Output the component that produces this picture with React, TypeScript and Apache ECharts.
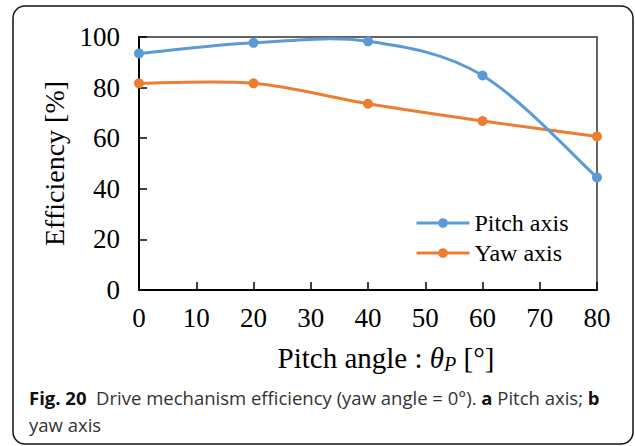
import React, { useEffect, useRef } from "react";
import * as echarts from "echarts";

const pitchAngles = [0, 20, 40, 60, 80];
const pitchAxisEff = [93.5, 97.7, 98.3, 84.8, 44.5];
const yawAxisEff = [81.7, 81.7, 73.6, 66.8, 60.7];
const seriesNames = ["Pitch axis", "Yaw axis"];
const seriesColors = ["#5B9BD5", "#ED7D31"];

const SERIF = "'Liberation Serif', 'Times New Roman', serif";
const SANS = "'Open Sans', 'Noto Sans', sans-serif";

// Excel-like smoothed curve (Catmull-Rom to cubic Bezier), through the chart's own scale
function smoothPath(pts: number[][]): string {
  let d = `M${pts[0][0]},${pts[0][1]}`;
  for (let i = 0; i < pts.length - 1; i++) {
    const p0 = pts[Math.max(0, i - 1)];
    const p1 = pts[i];
    const p2 = pts[i + 1];
    const p3 = pts[Math.min(pts.length - 1, i + 2)];
    const c1x = p1[0] + (p2[0] - p0[0]) / 6;
    const c1y = p1[1] + (p2[1] - p0[1]) / 6;
    const c2x = p2[0] - (p3[0] - p1[0]) / 6;
    const c2y = p2[1] - (p3[1] - p1[1]) / 6;
    d += ` C${c1x},${c1y} ${c2x},${c2y} ${p2[0]},${p2[1]}`;
  }
  return d;
}

export default function App() {
  const ref = useRef<HTMLDivElement>(null);
  useEffect(() => {
    document.body.style.margin = "0";
    const chart = echarts.init(ref.current!, null, { renderer: "svg" });
    const mk = (vals: number[]) => pitchAngles.map((a, i) => [a, vals[i]]);
    const curve = (vals: number[], color: string) => ({
      type: "custom",
      coordinateSystem: "cartesian2d",
      data: [[0, 0]],
      silent: true,
      z: 2,
      renderItem: (_params: any, api: any) => {
        const pts = pitchAngles.map((a, i) => api.coord([a, vals[i]]));
        return {
          type: "path",
          shape: { pathData: smoothPath(pts) },
          style: { stroke: color, lineWidth: 3, fill: "none" },
        };
      },
    });
    chart.setOption({
      animation: false,
      backgroundColor: "#fff",
      grid: {
        left: 139,
        right: 38,
        top: 37,
        bottom: 156,
        show: true,
        borderColor: "#333",
        borderWidth: 1.5,
      },
      legend: {
        orient: "vertical",
        left: 410,
        top: 206,
        itemWidth: 53,
        itemHeight: 12,
        itemGap: 6,
        textStyle: { fontFamily: SERIF, fontSize: 24, color: "#000", lineHeight: 24 },
        data: seriesNames.map((n, i) => ({
          name: n,
          lineStyle: { color: seriesColors[i], width: 3, opacity: 1 },
        })),
      },
      xAxis: {
        type: "value",
        min: 0,
        max: 80,
        interval: 10,
        axisLine: { show: true, lineStyle: { color: "#000", width: 2 } },
        axisTick: { show: true, inside: true, length: 8, lineStyle: { color: "#000", width: 1.5 } },
        splitLine: { show: false },
        axisLabel: { fontFamily: SERIF, fontSize: 27, color: "#000", margin: 14 },
        name: "{n|Pitch angle : }{i|θ}{s|P}{n| [°]}",
        nameLocation: "middle",
        nameGap: 52,
        nameTextStyle: {
          padding: [0, 0, 0, 36],
          rich: {
            n: { fontFamily: SERIF, fontSize: 29, color: "#000" },
            i: { fontFamily: SERIF, fontSize: 29, color: "#000", fontStyle: "italic" },
            s: { fontFamily: SERIF, fontSize: 20, color: "#000", fontStyle: "italic", padding: [12, 0, 0, 0] },
          },
        },
      },
      yAxis: {
        type: "value",
        min: 0,
        max: 100,
        interval: 20,
        axisLine: { show: true, lineStyle: { color: "#000", width: 2 } },
        axisTick: { show: true, inside: true, length: 8, lineStyle: { color: "#000", width: 1.5 } },
        splitLine: { show: false },
        axisLabel: { fontFamily: SERIF, fontSize: 27, color: "#000", margin: 19 },
        name: "Efficiency [%]",
        nameLocation: "middle",
        nameGap: 70,
        nameTextStyle: { fontFamily: SERIF, fontSize: 28, color: "#000" },
      },
      series: [
        curve(yawAxisEff, seriesColors[1]),
        curve(pitchAxisEff, seriesColors[0]),
        {
          name: seriesNames[0],
          type: "line",
          data: mk(pitchAxisEff),
          symbol: "circle",
          symbolSize: 10,
          color: seriesColors[0],
          lineStyle: { width: 3, color: seriesColors[0], opacity: 0 },
          itemStyle: { color: seriesColors[0] },
          z: 4,
        },
        {
          name: seriesNames[1],
          type: "line",
          data: mk(yawAxisEff),
          symbol: "circle",
          symbolSize: 10,
          color: seriesColors[1],
          lineStyle: { width: 3, color: seriesColors[1], opacity: 0 },
          itemStyle: { color: seriesColors[1] },
          z: 3,
        },
      ],
      graphic: [
        {
          type: "rect",
          silent: true,
          shape: { x: 13, y: 6, width: 620, height: 438, r: 12 },
          style: { fill: "none", stroke: "#111", lineWidth: 1.5 },
          z: -1,
        },
        {
          type: "text",
          left: 29,
          top: 388,
          style: {
            text: "{b|Fig. 20}{n|  Drive mechanism efficiency (yaw angle = 0°). }{b|a}{n| Pitch axis; }{b|b}",
            rich: {
              b: { fontFamily: SANS, fontSize: 18.5, fontWeight: "bold", fill: "#111" },
              n: { fontFamily: SANS, fontSize: 18.5, fill: "#333" },
            },
          },
        },
        {
          type: "text",
          left: 29,
          top: 415,
          style: { text: "yaw axis", fontFamily: SANS, fontSize: 18.5, fill: "#333" },
        },
      ],
    });
    return () => chart.dispose();
  }, []);
  return <div ref={ref} style={{ position: "absolute", left: 0, top: 0, width: 635, height: 446 }} />;
}
